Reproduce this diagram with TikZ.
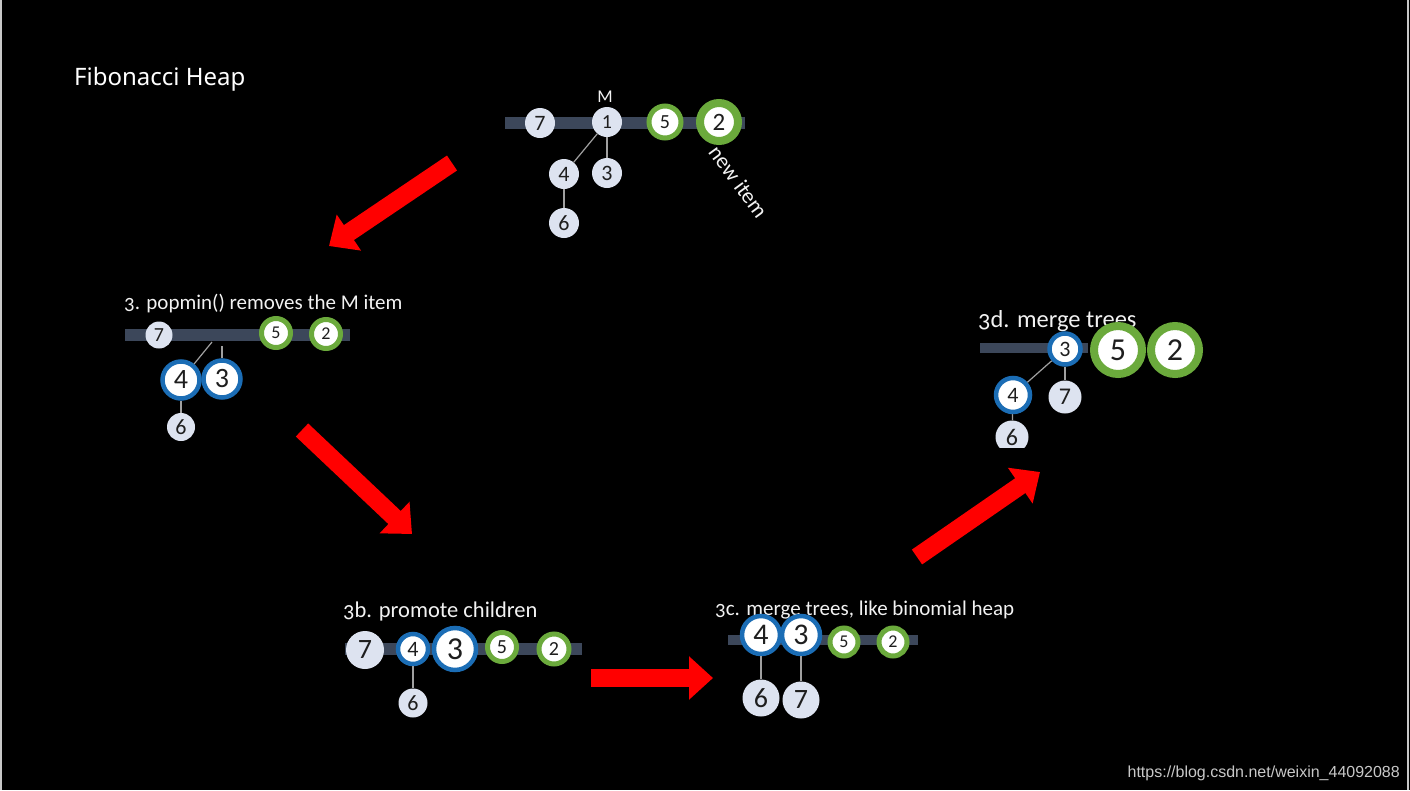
\documentclass[tikz,border=0pt]{standalone}
\usepackage{fontspec}
\setmainfont{Carlito}
\newfontfamily\titlefont{Noto Sans}
\newfontfamily\urlfont{Liberation Sans}
\newfontfamily\labfont[Numbers=OldStyle]{Carlito}
\usetikzlibrary{arrows.meta}
\definecolor{lav}{HTML}{DDE3F0}
\definecolor{ringblue}{HTML}{1B6DB5}
\definecolor{ringgreen}{HTML}{6BAA3C}
\definecolor{barcol}{HTML}{3C475A}
\definecolor{edgecol}{HTML}{A0A0A0}
\definecolor{txt}{HTML}{F2F2F2}
\definecolor{numcol}{HTML}{1E1E1E}
\definecolor{urlcol}{HTML}{C8C8C8}
\definecolor{arrred}{HTML}{FF0000}
\tikzset{
  fs/.style={font=\fontsize{#1}{#1}\selectfont},
  lavnode/.style={circle, fill=lav, inner sep=0pt, minimum size=#1, text=numcol},
  bluenode/.style={circle, fill=white, draw=ringblue, line width=4.5pt, inner sep=0pt, minimum size=#1, text=numcol},
  greennode/.style={circle, fill=white, draw=ringgreen, line width=5pt, inner sep=0pt, minimum size=#1, text=numcol},
  bignode/.style={greennode=#1, line width=8pt},
  heapbar/.style={fill=barcol},
  treeedge/.style={draw=edgecol, line width=1.2pt},
  steplabel/.style={text=txt, anchor=base west, inner sep=0pt, font=\labfont\fontsize{#1}{#1}\selectfont},
  bigarrow/.style={draw=arrred, line width=18pt, -{Triangle[width=42pt,length=24pt]}}
}
\begin{document}
\begin{tikzpicture}[x=1pt,y=-1pt]
\useasboundingbox (0,0) rectangle (1410,790);
\fill[black] (0,0) rectangle (1410,790);
\draw[line width=1.5pt, draw=urlcol] (0.75,0) -- (0.75,790);
\draw[line width=1.5pt, draw=urlcol] (1408,0) -- (1408,790);

% title and watermark
\node[anchor=west, text=white, inner sep=0pt, font=\titlefont\fontsize{24}{24}\selectfont] (title) at (74,79) {Fibonacci Heap};
\node[anchor=base east, text=urlcol, inner sep=0pt, font=\urlfont\fontsize{16}{16}\selectfont] (url) at (1400,777) {https://blog.csdn.net/weixin\_44092088};

% ---------- panel 1 ----------
\fill[heapbar] (505,117) rectangle (745,129);
\node[lavnode=30, fs=22] (a7) at (540,123) {7};
\node[lavnode=30, fs=20] (a1) at (607,122) {1};
\node[greennode=32, fs=20] (a5) at (665,122) {5};
\node[bignode=38, fs=25] (a2) at (719,122) {2};
\node[lavnode=30, fs=22] (a4) at (564,174) {4};
\node[lavnode=30, fs=22] (a3) at (607,173) {3};
\node[lavnode=30, fs=22] (a6) at (564,223) {6};
\node[text=txt, inner sep=0pt, fs=18] (aM) at (605,97) {M};
\node[text=txt, inner sep=0pt, anchor=north west, rotate=-54, fs=22] (anew) at (720,143) {new item};
\draw[treeedge] (a1) -- (a4);
\draw[treeedge] (a1) -- (a3);
\draw[treeedge] (a4) -- (a6);

% ---------- panel 2 ----------
\node[steplabel=21] (l2) at (124,309) {3. popmin() removes the M item};
\fill[heapbar] (125,329) rectangle (350,341);
\node[lavnode=27, fs=20] (b7) at (159,335) {7};
\node[greennode=29, fs=18] (b5) at (276,333) {5};
\node[greennode=29, fs=18] (b2) at (326,334) {2};
\node[bluenode=37, fs=28] (b4) at (181,380) {4};
\node[bluenode=37, fs=28] (b3) at (222,379) {3};
\node[lavnode=28, fs=22] (b6) at (181,427) {6};
\coordinate (b1a) at (212,342);
\coordinate (b1b) at (222,346);
\draw[treeedge] (b1a) -- (b4);
\draw[treeedge] (b1b) -- (b3);
\draw[treeedge] (b4) -- (b6);

% ---------- panel 3b ----------
\node[steplabel=22.5] (l3) at (343,617) {3b. promote children};
\fill[heapbar] (345,643) rectangle (582,655);
\node[lavnode=38, fs=28] (c7) at (365,650) {7};
\node[bluenode=30, fs=22] (c4) at (413,649) {4};
\node[bluenode=42, fs=32] (c3) at (455,649) {3};
\node[greennode=29, fs=20] (c5) at (502,647) {5};
\node[greennode=30, fs=20] (c2) at (554,649) {2};
\node[lavnode=29, fs=22] (c6) at (413,703) {6};
\draw[treeedge] (c4) -- (c6);

% ---------- panel 3c ----------
\node[steplabel=21] (l4) at (715,615) {3c. merge trees, like binomial heap};
\fill[heapbar] (728,635) rectangle (918,645);
\node[bluenode=38, fs=30] (d4) at (761,635) {4};
\node[bluenode=38, fs=30] (d3) at (801,635) {3};
\node[greennode=28, fs=18] (d5) at (844,642) {5};
\node[greennode=28, fs=18] (d2) at (893,642) {2};
\node[lavnode=37, fs=28] (d6) at (761,698) {6};
\node[lavnode=37, fs=28] (d7) at (801,700) {7};
\draw[treeedge] (d4) -- (d6);
\draw[treeedge] (d3) -- (d7);

% ---------- panel 3d ----------
\node[steplabel=24.5] (l5) at (978,327) {3d. merge trees};
\fill[heapbar] (980,343) rectangle (1088,353);
\node[bluenode=31, fs=22] (e3) at (1065,349) {3};
\node[bignode=48, fs=32] (e5) at (1118,350) {5};
\node[bignode=48, fs=32] (e2) at (1175,350) {2};
\node[bluenode=34, fs=22] (e4) at (1013,395) {4};
\node[lavnode=33, fs=24] (e7) at (1065,397) {7};
\begin{scope}
\clip (990,410) rectangle (1040,447);
\node[lavnode=33, fs=24] (e6) at (1012,437) {6};
\end{scope}
\draw[treeedge] (e3) -- (e4);
\draw[treeedge] (e3) -- (e7);
\draw[treeedge] (e4) -- (e6);

% ---------- arrows ----------
\coordinate (r1s) at (452,163); \coordinate (r1e) at (329,246);
\coordinate (r2s) at (302,430); \coordinate (r2e) at (412,534);
\coordinate (r3s) at (591,678); \coordinate (r3e) at (713,678);
\coordinate (r4s) at (917,557); \coordinate (r4e) at (1040,472);
\draw[bigarrow] (r1s) -- (r1e);
\draw[bigarrow] (r2s) -- (r2e);
\draw[bigarrow] (r3s) -- (r3e);
\draw[bigarrow] (r4s) -- (r4e);
\end{tikzpicture}
\end{document}
